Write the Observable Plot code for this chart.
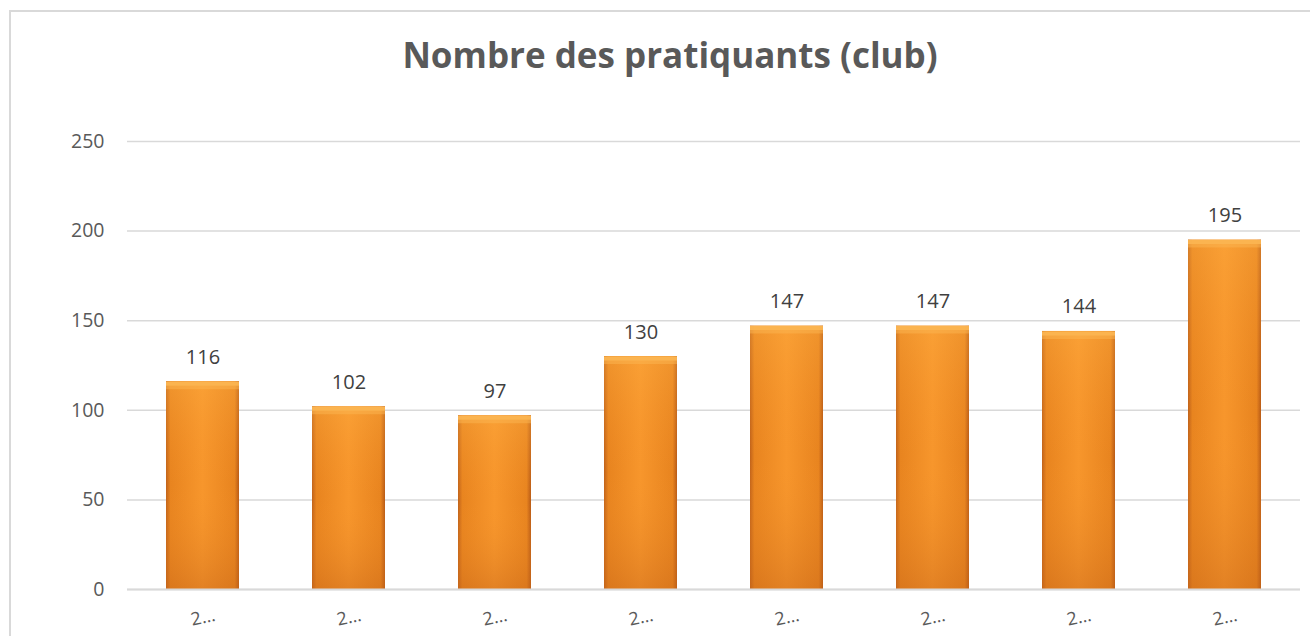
<!DOCTYPE html>
<html>
<head>
<meta charset="utf-8">
<script src="https://cdn.jsdelivr.net/npm/d3@7"></script>
<script src="https://cdn.jsdelivr.net/npm/@observablehq/plot@0.6"></script>
<style>
  html, body { margin: 0; padding: 0; background: #fff; overflow: hidden; }
  #wrap { position: relative; width: 1310px; height: 636px; overflow: hidden; }
  #frame { position: absolute; left: 9px; top: 10px; width: 1320px; height: 700px; border: 2px solid #d9d9d9; box-sizing: border-box; }
  #title { position: absolute; left: 0; width: 1340px; top: 31px; text-align: center; font-family: "Open Sans", sans-serif; font-weight: bold; font-size: 35px; color: #595959; }
  #chart { position: absolute; left: 0; top: 0; }
</style>
</head>
<body>
<div id="wrap">
  <div id="frame"></div>
  <div id="title">Nombre des pratiquants (club)</div>
  <div id="chart"></div>
</div>
<script>
const categories = [1, 2, 3, 4, 5, 6, 7, 8];
const tickLabels = ["2…", "2…", "2…", "2…", "2…", "2…", "2…", "2…"];
const values = [116, 102, 97, 130, 147, 147, 144, 195];
const yTicks = [0, 50, 100, 150, 200, 250];

const data = categories.map((c, i) => ({cat: c, label: tickLabels[i], value: values[i]}));

const plot = Plot.plot({
  width: 1310,
  height: 636,
  marginLeft: 127,
  marginRight: 10,
  marginTop: 141,
  marginBottom: 47,
  style: {background: "transparent", fontFamily: "Open Sans, sans-serif"},
  x: {domain: categories, paddingInner: 0.5, paddingOuter: 0.25, label: null, axis: null},
  y: {domain: [0, 250], label: null, axis: null},
  marks: [
    Plot.gridY(yTicks, {stroke: "#d9d9d9", strokeOpacity: 1, strokeWidth: 1.5}),
    Plot.axisY(yTicks, {tickSize: 0, tickPadding: 23, fontSize: 19.5, fill: "#595959", label: null}),
    Plot.barY(data, {x: "cat", y: "value", fill: "url(#barH)", insetLeft: 0, insetRight: 0}),
    Plot.barY(data, {x: "cat", y: "value", fill: "url(#barV)", insetLeft: 0, insetRight: 0}),
    Plot.tickY(data, {x: "cat", y: "value", stroke: "#fbb552", strokeWidth: 4, dy: 2, strokeOpacity: 0.95}),
    Plot.tickY(data, {x: "cat", y: "value", stroke: "#fbb552", strokeWidth: 4, dy: 5.5, strokeOpacity: 0.5}),
    Plot.ruleY([0], {stroke: "#d9d9d9", strokeWidth: 2}),
    Plot.text(data, {x: "cat", y: "value", text: d => String(d.value), lineAnchor: "bottom", dy: -18, fontSize: 20, fill: "#404040"}),
    Plot.axisX(categories, {tickSize: 0, tickPadding: 0, dy: 28, fontSize: 18, fill: "#595959", tickRotate: -12, textAnchor: "middle", lineAnchor: "middle", tickFormat: (d, i) => tickLabels[i], label: null})
  ]
});

const svgNS = "http://www.w3.org/2000/svg";
const defs = document.createElementNS(svgNS, "defs");
defs.innerHTML = `
  <linearGradient id="barH" x1="0" x2="1" y1="0" y2="0">
    <stop offset="0" stop-color="#c0621a"/>
    <stop offset="0.06" stop-color="#e8841f"/>
    <stop offset="0.5" stop-color="#f7962c"/>
    <stop offset="0.94" stop-color="#e8841f"/>
    <stop offset="1" stop-color="#b85a16"/>
  </linearGradient>
  <linearGradient id="barV" x1="0" x2="0" y1="0" y2="1">
    <stop offset="0" stop-color="#ffb347" stop-opacity="0.35"/>
    <stop offset="0.5" stop-color="#f7962c" stop-opacity="0"/>
    <stop offset="1" stop-color="#c9681a" stop-opacity="0.45"/>
  </linearGradient>`;
plot.insertBefore(defs, plot.firstChild);
document.getElementById("chart").appendChild(plot);
</script>
</body>
</html>
